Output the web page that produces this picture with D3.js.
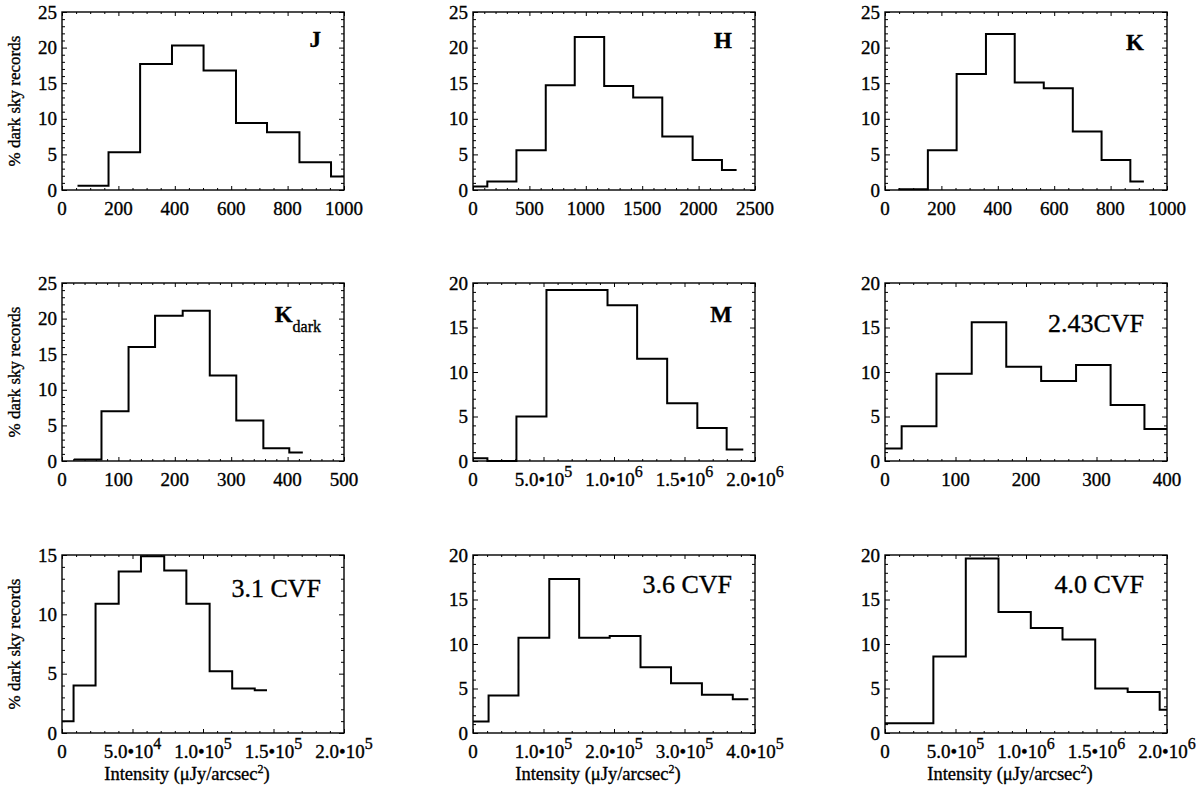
<!DOCTYPE html>
<html>
<head>
<meta charset="utf-8">
<script src="https://cdn.jsdelivr.net/npm/d3@7"></script>
<style>
  body { margin: 0; background: #fff; }
  svg text { font-family: "Liberation Serif", "Times New Roman", serif; fill: #000; stroke: #000; stroke-width: 0.35px; }
</style>
</head>
<body>
<script>
// bin edges (intensity) and % of dark sky records in each bin
const jEdges = [55, 165, 277, 390, 502, 617, 727, 842, 954, 1000];
const jPct = [0.6, 5.3, 17.7, 20.3, 16.8, 9.4, 8.1, 3.9, 1.9];

const hEdges = [0, 127, 385, 645, 902, 1163, 1420, 1678, 1947, 2207, 2337];
const hPct = [0.5, 1.2, 5.6, 14.7, 21.5, 14.6, 13.0, 7.5, 4.2, 2.8];

const kEdges = [47, 152, 254, 358, 460, 563, 666, 768, 870, 918];
const kPct = [0.1, 5.6, 16.3, 21.9, 15.1, 14.3, 8.2, 4.2, 1.2];

const kdEdges = [21, 70, 118, 165, 214, 262, 309, 357, 403, 427];
const kdPct = [0.2, 7.0, 16.0, 20.4, 21.1, 12.0, 5.7, 1.8, 1.2];

const mEdges = [0, 1.02e5, 3.08e5, 5.21e5, 7.34e5, 9.54e5, 1.164e6, 1.377e6, 1.591e6, 1.799e6, 1.917e6];
const mPct = [0.3, 0, 5.0, 19.2, 19.2, 17.5, 11.5, 6.5, 3.7, 1.3];

const c243Edges = [0, 23.6, 73, 123, 172, 221.5, 271, 320, 368, 400];
const c243Pct = [1.4, 3.9, 9.8, 15.6, 10.6, 9.0, 10.8, 6.3, 3.6];

const c31Edges = [0, 8.2e3, 2.38e4, 4.02e4, 5.6e4, 7.25e4, 8.82e4, 1.047e5, 1.207e5, 1.367e5, 1.454e5];
const c31Pct = [1.0, 4.0, 10.9, 13.6, 14.9, 13.7, 10.9, 5.2, 3.75, 3.6];

const c36Edges = [0, 2.21e4, 6.45e4, 1.082e5, 1.506e5, 1.939e5, 2.376e5, 2.809e5, 3.247e5, 3.685e5, 3.906e5];
const c36Pct = [1.3, 4.2, 10.7, 17.3, 10.7, 10.9, 7.4, 5.6, 4.3, 3.8];

const c40Edges = [0, 3.43e5, 5.73e5, 8.05e5, 1.034e6, 1.259e6, 1.491e6, 1.721e6, 1.948e6, 2.0e6];
const c40Pct = [1.1, 8.6, 19.6, 13.6, 11.8, 10.5, 5.0, 4.6, 2.6];

// axis tick labels
const jTicks = [0, 200, 400, 600, 800, 1000];
const hTicks = [0, 500, 1000, 1500, 2000, 2500];
const kdTicks = [0, 100, 200, 300, 400, 500];
const mTicks = [0, 5e5, 1e6, 1.5e6, 2e6];
const c243Ticks = [0, 100, 200, 300, 400];
const c31Ticks = [0, 5e4, 1e5, 1.5e5, 2e5];
const c36Ticks = [0, 1e5, 2e5, 3e5, 4e5];
const yTicks25 = [0, 5, 10, 15, 20, 25];
const yTicks20 = [0, 5, 10, 15, 20];
const yTicks15 = [0, 5, 10, 15];

const panels = [
  { name: "J", bold: true, edges: jEdges, pct: jPct, xt: jTicks, yt: yTicks25, sci: false, minor: 4, ly: 35 },
  { name: "H", bold: true, edges: hEdges, pct: hPct, xt: hTicks, yt: yTicks25, sci: false, minor: 5, ly: 36 },
  { name: "K", bold: true, edges: kEdges, pct: kPct, xt: jTicks, yt: yTicks25, sci: false, minor: 4, ly: 38 },
  { name: "K", sub: "dark", bold: true, edges: kdEdges, pct: kdPct, xt: kdTicks, yt: yTicks25, sci: false, minor: 5, ly: 39 },
  { name: "M", bold: true, edges: mEdges, pct: mPct, xt: mTicks, yt: yTicks20, sci: true, minor: 5, ly: 39 },
  { name: "2.43CVF", bold: false, edges: c243Edges, pct: c243Pct, xt: c243Ticks, yt: yTicks20, sci: false, minor: 5, ly: 49 },
  { name: "3.1 CVF", bold: false, edges: c31Edges, pct: c31Pct, xt: c31Ticks, yt: yTicks15, sci: true, minor: 5, ly: 42 },
  { name: "3.6 CVF", bold: false, edges: c36Edges, pct: c36Pct, xt: c36Ticks, yt: yTicks20, sci: true, minor: 5, ly: 38 },
  { name: "4.0 CVF", bold: false, edges: c40Edges, pct: c40Pct, xt: mTicks, yt: yTicks20, sci: true, minor: 5, ly: 38 }
];

const colX = [62, 473, 885];
const rowY = [12, 283, 555];
const W = 282, H = 178;

const svg = d3.select("body").append("svg")
  .attr("width", 1204)
  .attr("height", 787);

// split ticks into minor ones
minorOf = (ticks, n) => {
  let out = [];
  for (let i = 0; i < ticks.length - 1; i++) {
    for (let k = 1; k < n; k++) out.push(ticks[i] + (ticks[i + 1] - ticks[i]) * k / n);
  }
  return out;
};

// "5.0•10" + superscript exponent
sciLabel = (sel, v) => {
  if (v === 0) { sel.text("0"); return; }
  let e = Math.floor(Math.log10(v) + 1e-9);
  let m = (v / Math.pow(10, e)).toFixed(1);
  sel.append("tspan").text(m + "\u202210");
  sel.append("tspan").attr("dy", -9).style("font-size", "16px").text(e);
};

panels.forEach((p, i) => {
  const col = i % 3, row = Math.floor(i / 3);
  const g = svg.append("g").attr("transform", `translate(${colX[col]},${rowY[row]})`);

  const x = d3.scaleLinear().domain([0, p.xt[p.xt.length - 1]]).range([0, W]);
  const y = d3.scaleLinear().domain([0, p.yt[p.yt.length - 1]]).range([H, 0]);

  const xMinor = minorOf(p.xt, p.minor);
  const yMinor = minorOf(p.yt, 5);

  const ticks = [
    [d3.axisBottom(x).tickValues(p.xt).tickSize(-4), `translate(0,${H})`],
    [d3.axisBottom(x).tickValues(xMinor).tickSize(-2), `translate(0,${H})`],
    [d3.axisTop(x).tickValues(p.xt).tickSize(-4), "translate(0,0)"],
    [d3.axisTop(x).tickValues(xMinor).tickSize(-2), "translate(0,0)"],
    [d3.axisLeft(y).tickValues(p.yt).tickSize(-5), "translate(0,0)"],
    [d3.axisLeft(y).tickValues(yMinor).tickSize(-3), "translate(0,0)"],
    [d3.axisRight(y).tickValues(p.yt).tickSize(-5), `translate(${W},0)`],
    [d3.axisRight(y).tickValues(yMinor).tickSize(-3), `translate(${W},0)`]
  ];
  ticks.forEach(t => {
    const a = g.append("g").attr("transform", t[1]).call(t[0].tickFormat(""));
    a.select(".domain").remove();
    a.selectAll("line").attr("stroke", "#000").attr("stroke-width", 1);
  });

  const clipId = "clip" + i;
  g.append("clipPath").attr("id", clipId)
    .append("rect").attr("width", W).attr("height", H + 1);

  const pts = p.edges.map((e, k) => [e, p.pct[Math.min(k, p.pct.length - 1)]]);
  const line = d3.line()
    .x(d => x(d[0]))
    .y(d => y(d[1]))
    .curve(d3.curveStepAfter);

  g.append("path")
    .datum(pts)
    .attr("d", line)
    .attr("clip-path", `url(#${clipId})`)
    .attr("fill", "none")
    .attr("stroke", "#000")
    .attr("stroke-width", 2);

  g.append("rect")
    .attr("width", W)
    .attr("height", H)
    .attr("fill", "none")
    .attr("stroke", "#000")
    .attr("stroke-width", 1.4);

  // y tick labels
  g.selectAll("text.ylab")
    .data(p.yt)
    .enter()
    .append("text")
    .attr("class", "ylab")
    .attr("x", -5)
    .attr("y", d => y(d))
    .attr("dy", "0.35em")
    .attr("text-anchor", "end")
    .style("font-size", "19px")
    .text(d => d);

  // x tick labels
  g.selectAll("text.xlab")
    .data(p.xt)
    .enter()
    .append("text")
    .attr("class", "xlab")
    .attr("x", d => x(d))
    .attr("y", H + 25)
    .attr("text-anchor", "middle")
    .style("font-size", "19px")
    .each(function(d) {
      if (p.sci) sciLabel(d3.select(this), d);
      else d3.select(this).text(d);
    });

  // band name
  const lab = g.append("text")
    .attr("x", W - 23)
    .attr("y", p.ly)
    .attr("text-anchor", "end")
    .style("font-size", p.bold ? "23px" : "26px")
    .style("font-weight", p.bold ? "bold" : "normal");
  lab.append("tspan").text(p.name);
  if (p.sub) {
    lab.append("tspan")
      .attr("dy", 10)
      .style("font-size", "16px")
      .style("font-weight", "normal")
      .text(p.sub);
  }

  if (col === 0) {
    g.append("text")
      .attr("transform", `translate(-42,${H / 2}) rotate(-90)`)
      .attr("text-anchor", "middle")
      .style("font-size", "17px")
      .text("% dark sky records");
  }

  if (row === 2) {
    const t = g.append("text")
      .attr("x", W / 2 - 16)
      .attr("y", 780 - rowY[2])
      .attr("text-anchor", "middle")
      .style("font-size", "18.5px");
    t.append("tspan").text("Intensity (\u03bcJy/arcsec");
    t.append("tspan").attr("dy", -7).style("font-size", "12px").text("2");
    t.append("tspan").attr("dy", 7).text(")");
  }
});
</script>
</body>
</html>
